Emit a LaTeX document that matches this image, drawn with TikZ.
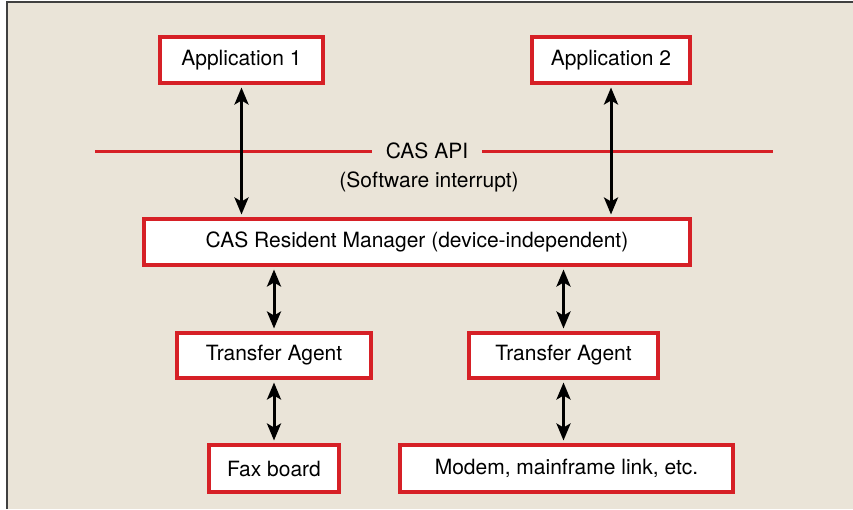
\documentclass[tikz,border=0pt]{standalone}
\usepackage{fontspec}
\setmainfont{TeX Gyre Heros}
\usetikzlibrary{arrows.meta}
\definecolor{boxred}{RGB}{214,32,38}
\definecolor{paper}{RGB}{234,228,216}
\tikzset{
  layer/.style={draw=boxred, line width=4pt, fill=white, inner sep=0pt,
    minimum height=46pt, font=\fontsize{21}{25}\selectfont},
  link/.style={{Stealth[length=17pt,width=14pt,inset=4pt]}-{Stealth[length=17pt,width=14pt,inset=4pt]},
    line width=3pt, shorten <=2.5pt, shorten >=2.5pt},
  apitext/.style={font=\fontsize{21}{25}\selectfont}
}
\begin{document}
\begin{tikzpicture}[x=1pt,y=-1pt]
  \useasboundingbox (0,0) rectangle (853,509);
  \fill[paper] (7,2) rectangle (853,509);
  \draw[line width=2pt, black!75] (7,509) -- (7,2) -- (853,2);

  % applications
  \node[layer, minimum width=163pt] (app1) at (241.5,60) {Application 1};
  \node[layer, minimum width=158pt] (app2) at (611,60) {Application 2};

  % API boundary
  \coordinate (apil) at (95,151);
  \coordinate (apir) at (773,151);
  \node[apitext, inner xsep=14pt, inner ysep=0pt] (capi) at (427,151) {CAS API};
  \node[apitext] (swint) at (429,182) {(Software interrupt)};
  \draw[boxred, line width=3pt] (apil) -- (capi.west);
  \draw[boxred, line width=3pt] (capi.east) -- (apir);

  \node[layer, minimum width=546pt] (mgr) at (417,242) {CAS Resident Manager (device-independent)};

  % agents and devices
  \node[layer, minimum width=194pt, minimum height=45pt] (ta1) at (274,355.5) {Transfer Agent};
  \node[layer, minimum width=189pt, minimum height=45pt] (ta2) at (563.5,355.5) {Transfer Agent};
  \node[layer, minimum width=130pt, minimum height=47pt] (fax) at (274,468.5) {Fax board};
  \node[layer, minimum width=333pt, minimum height=47pt] (modem) at (566.5,468.5) {Modem, mainframe link, etc.};

  \draw[link] (app1.south) -- (app1.south |- mgr.north);
  \draw[link] (app2.south) -- (app2.south |- mgr.north);
  \draw[link] (mgr.south -| ta1) -- (ta1.north);
  \draw[link] (mgr.south -| ta2) -- (ta2.north);
  \draw[link] (ta1.south) -- (fax.north);
  \draw[link] (ta2.south) -- (ta2.south |- modem.north);
\end{tikzpicture}
\end{document}
